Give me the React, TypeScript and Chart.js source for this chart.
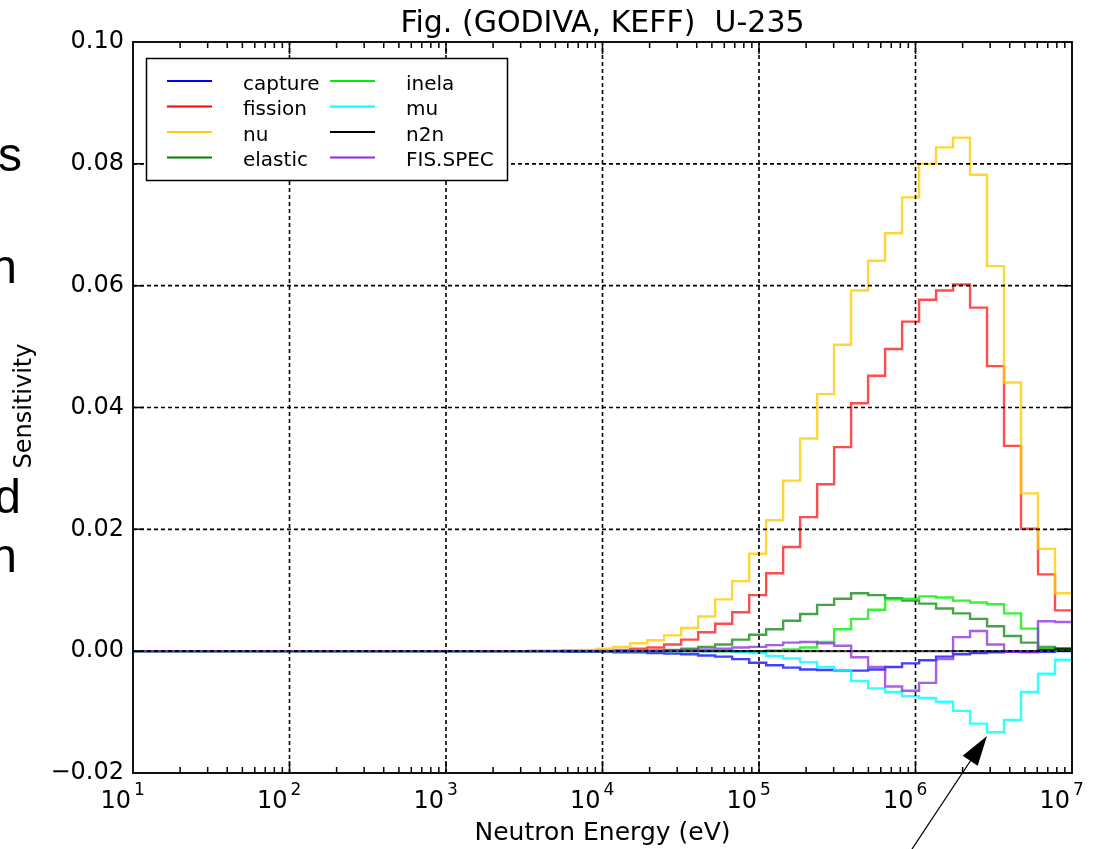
import React, { useEffect, useRef } from 'react';
import { Chart, registerables } from 'chart.js';

Chart.register(...registerables);

const W = 1097;
const H = 849;

// Energy group boundaries (eV), ascending. The first bin (10 eV - 2.03 keV) merges the
// low-energy groups, whose sensitivities are all ~0 at this scale.
const groupEdges = [
  10, 2034.7, 2612.6, 3354.6, 4307.4, 5530.8, 7101.7, 9118.8, 11709, 15034, 19305,
  24788, 31828, 40868, 52475, 67379, 86517, 111090, 142640, 183160, 235180, 301970,
  387740, 497870, 639280, 820850, 1054000, 1353400, 1737700, 2231300, 2865000,
  3678800, 4723700, 6065300, 7788000, 10000000,
];

// Sensitivity per group (one value per bin, ascending energy)
const capture = [
  0, 0, 0, 0, 0, -0.0001, -0.0001, -0.0001, -0.0002, -0.0002, -0.0003,
  -0.0004, -0.0005, -0.0007, -0.0009, -0.0013, -0.0019, -0.0023, -0.0027, -0.0030, -0.0031,
  -0.0032, -0.0032, -0.0030, -0.0026, -0.0020, -0.0015, -0.0009, -0.0005, -0.0003, -0.0002,
  -0.0001, -0.0001, -0.0001, 0,
];
const fission = [
  0, 0, 0, 0, 0, 0.0001, 0.0001, 0.0001, 0.0002, 0.0004, 0.0006,
  0.0011, 0.0019, 0.0031, 0.0045, 0.0064, 0.0092, 0.0128, 0.0171, 0.0220, 0.0274,
  0.0335, 0.0407, 0.0452, 0.0496, 0.0541, 0.0577, 0.0592, 0.0602, 0.0564, 0.0468,
  0.0337, 0.0201, 0.0126, 0.0067,
];
const nu = [
  0, 0, 0, 0.0001, 0.0001, 0.0001, 0.0002, 0.0004, 0.0007, 0.0013, 0.0018,
  0.0026, 0.0038, 0.0057, 0.0085, 0.0115, 0.0160, 0.0215, 0.0280, 0.0349, 0.0422,
  0.0503, 0.0592, 0.0641, 0.0686, 0.0745, 0.0800, 0.0827, 0.0843, 0.0782, 0.0632,
  0.0441, 0.0259, 0.0168, 0.0095,
];
const elastic = [
  0, 0, 0, 0, 0, 0, 0, 0, 0, 0, 0.0001,
  0.0002, 0.0004, 0.0007, 0.0011, 0.0019, 0.0027, 0.0036, 0.0050, 0.0061, 0.0076,
  0.0086, 0.0095, 0.0092, 0.0087, 0.0083, 0.0078, 0.0070, 0.0062, 0.0053, 0.0041,
  0.0025, 0.0014, 0.0007, 0.0004,
];
const inela = [
  0, 0, 0, 0, 0, 0, 0, 0, 0, 0, 0,
  0, 0, 0, 0, 0, 0, 0.0001, 0.0003, 0.0006, 0.0015,
  0.0036, 0.0053, 0.0068, 0.0085, 0.0086, 0.0090, 0.0088, 0.0083, 0.0080, 0.0077,
  0.0062, 0.0037, 0.0004, 0.0001,
];
const mu = [
  0, 0, 0, 0, 0, 0, 0, 0, 0, 0, 0,
  0, 0, 0, 0, -0.0001, -0.0003, -0.0008, -0.0012, -0.0018, -0.0026,
  -0.0032, -0.0049, -0.0061, -0.0067, -0.0074, -0.0077, -0.0083, -0.0098, -0.0119, -0.0133,
  -0.0113, -0.0067, -0.0037, -0.0014,
];
const n2n = [
  0, 0, 0, 0, 0, 0, 0, 0, 0, 0, 0,
  0, 0, 0, 0, 0, 0, 0, 0, 0, 0,
  0, 0, 0, 0, 0, 0, 0, 0, 0, 0,
  0, 0, 0.0002, 0.0004,
];
const fisSpec = [
  0, 0, 0, 0, 0, 0, 0, 0, 0, 0, 0,
  0.0001, 0.0002, 0.0003, 0.0004, 0.0006, 0.0007, 0.0010, 0.0014, 0.0015, 0.0013,
  0.0009, -0.0010, -0.0026, -0.0058, -0.0065, -0.0052, -0.0013, 0.0023, 0.0033, 0.0011,
  -0.0001, -0.0002, 0.0049, 0.0048,
];

const seriesLabels = ['capture', 'fission', 'nu', 'elastic', 'inela', 'mu', 'n2n', 'FIS.SPEC'];
const seriesValues = [capture, fission, nu, elastic, inela, mu, n2n, fisSpec];
const seriesColors = [
  'rgba(0,0,255,0.75)',
  'rgba(255,0,0,0.7)',
  'rgba(255,204,0,0.8)',
  'rgba(0,128,0,0.72)',
  'rgba(0,240,0,0.78)',
  'rgba(0,255,255,0.8)',
  'rgba(0,0,0,0.7)',
  'rgba(138,43,226,0.75)',
];
const legendColors = ['#0000ff', '#ff0000', '#ffcc00', '#008000', '#00ee00', '#00ffff', '#000000', '#8a2be2'];

const X_MIN = 10;
const X_MAX = 1e7;
const xMajorTicks = [1e1, 1e2, 1e3, 1e4, 1e5, 1e6, 1e7];
const xTickExponents = ['1', '2', '3', '4', '5', '6', '7'];
const yTicks = [-0.02, 0, 0.02, 0.04, 0.06, 0.08, 0.1];
const yTickLabels = ['\u22120.02', '0.00', '0.02', '0.04', '0.06', '0.08', '0.10'];

const TITLE = 'Fig. (GODIVA, KEFF)  U-235';
const X_LABEL = 'Neutron Energy (eV)';
const Y_LABEL = 'Sensitivity';
const FONT = '"DejaVu Sans", sans-serif';

function minorTicks(): number[] {
  const out: number[] = [];
  for (let e = 1; e < 7; e++) {
    for (let m = 2; m <= 9; m++) out.push(m * Math.pow(10, e));
  }
  return out;
}

function stepPoints(values: number[]) {
  const pts = values.map((v, i) => ({ x: groupEdges[i], y: v }));
  pts.push({ x: groupEdges[groupEdges.length - 1], y: values[values.length - 1] });
  return pts;
}

const decorPlugin = {
  id: 'decor',
  afterDatasetsDraw(chart: any) {
    const { ctx, chartArea: ca, scales } = chart;
    const xs = scales.x;
    const ys = scales.y;
    ctx.save();

    // dashed grid above the data (matplotlib style)
    ctx.strokeStyle = '#000';
    ctx.lineWidth = 1.6;
    ctx.setLineDash([4, 3]);
    xMajorTicks.forEach((v) => {
      if (v <= X_MIN || v >= X_MAX) return;
      const x = xs.getPixelForValue(v);
      ctx.beginPath();
      ctx.moveTo(x, ca.bottom);
      ctx.lineTo(x, ca.top);
      ctx.stroke();
    });
    yTicks.forEach((v) => {
      const y = ys.getPixelForValue(v);
      if (Math.abs(y - ca.top) < 1 || Math.abs(y - ca.bottom) < 1) return;
      ctx.beginPath();
      ctx.moveTo(ca.left, y);
      ctx.lineTo(ca.right, y);
      ctx.stroke();
    });
    ctx.setLineDash([]);

    // inward tick marks
    ctx.lineWidth = 1.5;
    ctx.beginPath();
    xMajorTicks.forEach((v) => {
      const x = xs.getPixelForValue(v);
      ctx.moveTo(x, ca.bottom);
      ctx.lineTo(x, ca.bottom - 12);
      ctx.moveTo(x, ca.top);
      ctx.lineTo(x, ca.top + 12);
    });
    minorTicks().forEach((v) => {
      const x = xs.getPixelForValue(v);
      ctx.moveTo(x, ca.bottom);
      ctx.lineTo(x, ca.bottom - 6);
      ctx.moveTo(x, ca.top);
      ctx.lineTo(x, ca.top + 6);
    });
    yTicks.forEach((v) => {
      const y = ys.getPixelForValue(v);
      ctx.moveTo(ca.left, y);
      ctx.lineTo(ca.left + 11, y);
      ctx.moveTo(ca.right, y);
      ctx.lineTo(ca.right - 11, y);
    });
    ctx.stroke();

    // frame
    ctx.lineWidth = 2;
    ctx.strokeStyle = '#111';
    ctx.strokeRect(ca.left, ca.top, ca.right - ca.left, ca.bottom - ca.top);

    // legend (two columns, column-major order)
    const lx = ca.left + 13.5;
    const ly = ca.top + 16.5;
    ctx.fillStyle = '#fff';
    ctx.fillRect(lx, ly, 361, 122);
    ctx.lineWidth = 1.5;
    ctx.strokeStyle = '#000';
    ctx.strokeRect(lx, ly, 361, 122);
    ctx.font = `20px ${FONT}`;
    ctx.textAlign = 'left';
    ctx.textBaseline = 'alphabetic';
    seriesLabels.forEach((label, i) => {
      const col = Math.floor(i / 4);
      const row = i % 4;
      const y = ly + 22.5 + row * 25.5;
      const x0 = lx + 20.5 + col * 163;
      ctx.strokeStyle = legendColors[i];
      ctx.lineWidth = 2;
      ctx.beginPath();
      ctx.moveTo(x0, y);
      ctx.lineTo(x0 + 45, y);
      ctx.stroke();
      ctx.fillStyle = '#000';
      ctx.fillText(label, x0 + 76, y + 8.5);
    });

    ctx.restore();
  },
  afterDraw(chart: any) {
    const { ctx, chartArea: ca, scales } = chart;
    const xs = scales.x;
    ctx.save();
    ctx.fillStyle = '#000';

    // x tick labels 10^n
    xMajorTicks.forEach((v, i) => {
      const x = xs.getPixelForValue(v);
      ctx.font = `24px ${FONT}`;
      ctx.textAlign = 'right';
      ctx.textBaseline = 'alphabetic';
      ctx.fillText('10', x - 2, 808);
      ctx.font = `17px ${FONT}`;
      ctx.textAlign = 'left';
      ctx.fillText(xTickExponents[i], x + 1, 795);
    });

    // title
    const cx = (ca.left + ca.right) / 2;
    ctx.font = `30px ${FONT}`;
    ctx.textAlign = 'center';
    ctx.textBaseline = 'alphabetic';
    ctx.fillText(TITLE, cx, 32);

    // x axis label
    ctx.font = `25px ${FONT}`;
    ctx.fillText(X_LABEL, cx, 840);

    // y axis label
    ctx.save();
    ctx.translate(31, 406);
    ctx.rotate(-Math.PI / 2);
    ctx.font = `24px ${FONT}`;
    ctx.textAlign = 'center';
    ctx.fillText(Y_LABEL, 0, 0);
    ctx.restore();

    // cropped slide text at the left edge
    ctx.font = '48px "Liberation Sans", Arial, sans-serif';
    ctx.textAlign = 'right';
    ctx.fillText('s', 22, 171);
    ctx.fillText('n', 17, 283);
    ctx.fillText('d', 21, 513);
    ctx.fillText('n', 17, 572);

    // annotation arrow pointing at the mu minimum
    ctx.strokeStyle = '#000';
    ctx.lineWidth = 1.3;
    ctx.beginPath();
    ctx.moveTo(912, 849);
    ctx.lineTo(971, 760);
    ctx.stroke();
    ctx.beginPath();
    ctx.moveTo(987, 736);
    ctx.lineTo(977.7, 765.8);
    ctx.lineTo(962.7, 755.8);
    ctx.closePath();
    ctx.fill();

    ctx.restore();
  },
};

export default function App() {
  const ref = useRef<HTMLCanvasElement | null>(null);

  useEffect(() => {
    document.body.style.margin = '0';
    const canvas = ref.current;
    if (!canvas) return;
    const chart = new Chart(canvas, {
      type: 'line',
      data: {
        datasets: seriesLabels.map((label, i) => ({
          label,
          data: stepPoints(seriesValues[i]),
          borderColor: seriesColors[i],
          backgroundColor: seriesColors[i],
          borderWidth: 2.4,
          pointRadius: 0,
          fill: false,
          stepped: 'before' as const,
          order: seriesLabels.length - i,
        })),
      },
      options: {
        responsive: false,
        animation: false,
        devicePixelRatio: 1,
        layout: { padding: { left: 0, right: W - 1072, top: 42, bottom: H - 773 } },
        plugins: {
          legend: { display: false },
          tooltip: { enabled: false },
          title: { display: false },
        },
        scales: {
          x: {
            type: 'logarithmic',
            min: X_MIN,
            max: X_MAX,
            grid: { display: false, drawTicks: false },
            border: { display: false },
            ticks: { display: false },
            afterFit: (s: any) => {
              s.height = 0;
            },
          },
          y: {
            type: 'linear',
            min: -0.02,
            max: 0.1,
            grid: { display: false, drawTicks: false },
            border: { display: false },
            afterBuildTicks: (s: any) => {
              s.ticks = yTicks.map((v) => ({ value: v }));
            },
            ticks: {
              autoSkip: false,
              padding: 9,
              color: '#000',
              font: { family: 'DejaVu Sans', size: 24 },
              callback: (_v: any, idx: number) => yTickLabels[idx],
            },
            afterFit: (s: any) => {
              s.width = 133;
            },
          },
        },
      },
      plugins: [decorPlugin],
    } as any);
    return () => chart.destroy();
  }, []);

  return (
    <div style={{ position: 'absolute', left: 0, top: 0, width: W, height: H, background: '#fff' }}>
      <canvas ref={ref} width={W} height={H} style={{ display: 'block', width: W, height: H }} />
    </div>
  );
}
